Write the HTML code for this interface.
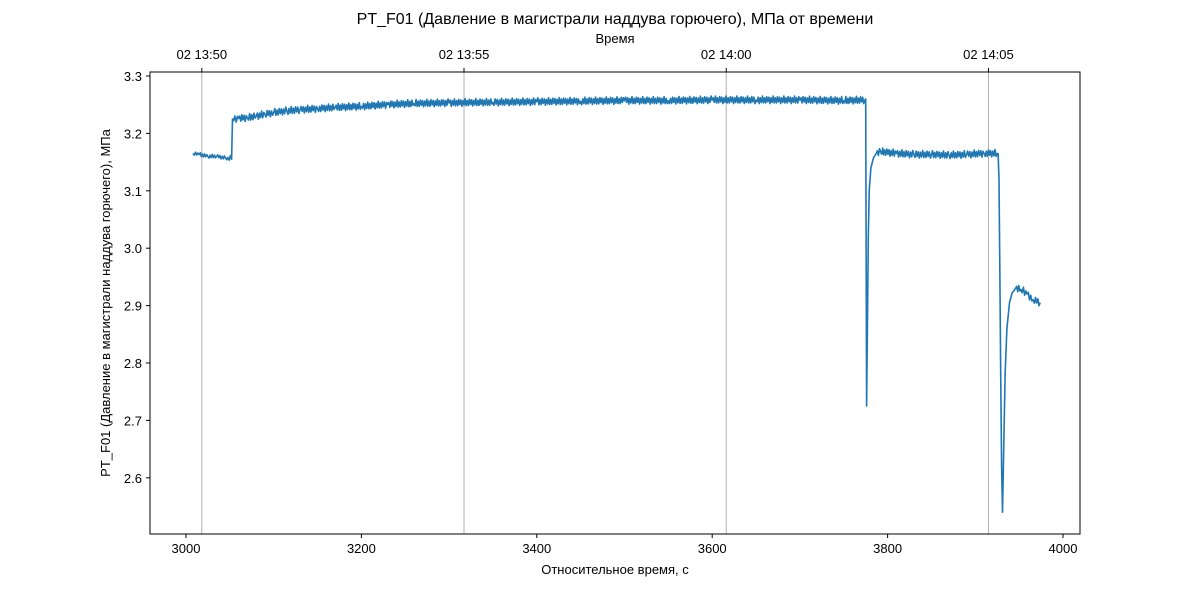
<!DOCTYPE html>
<html><head><meta charset="utf-8">
<style>
body{margin:0;background:#fff;}
svg text{font-family:"Liberation Sans","DejaVu Sans",sans-serif;fill:#000;}
</style></head>
<body>
<svg id="chart" width="1200" height="600" xmlns="http://www.w3.org/2000/svg"></svg>
<script>
const times = [3008,3015,3025,3035,3045,3052,3053,3060,3070,3080,3090,3100,3115,3130,3150,3170,3200,3230,3260,3300,3350,3400,3450,3500,3550,3600,3650,3700,3750,3774,3775,3776,3777,3778,3779,3781,3784,3787,3792,3810,3830,3850,3870,3890,3910,3925,3926,3927,3928,3929,3930,3931,3932,3934,3936,3939,3942,3946,3952,3959,3966,3974];
const values = [3.165,3.163,3.160,3.160,3.157,3.155,3.225,3.226,3.227,3.230,3.233,3.236,3.239,3.241,3.243,3.245,3.247,3.250,3.252,3.253,3.254,3.255,3.256,3.257,3.257,3.258,3.258,3.258,3.257,3.258,3.26,2.725,2.86,3.02,3.10,3.14,3.158,3.165,3.168,3.165,3.163,3.163,3.162,3.163,3.165,3.165,3.165,3.12,2.95,2.78,2.62,2.54,2.62,2.78,2.86,2.905,2.922,2.930,2.928,2.920,2.910,2.905];
const jitter = [0.004,-0.005,0.006,-0.003,0.005,-0.006,0.004,-0.004,0.007,-0.005];
const xTicks = [3000,3200,3400,3600,3800,4000];
const yTicks = [2.6,2.7,2.8,2.9,3.0,3.1,3.2,3.3];
const topTicks = [3018,3317,3616,3915];
const topLabels = ["02 13:50","02 13:55","02 14:00","02 14:05"];

const L=150,R=1080,T=72,B=534;
const sx=v=>186+(v-3000)*0.877;
const sy=v=>76+(3.3-v)*574;
const svg=document.getElementById('chart');
const NS='http://www.w3.org/2000/svg';
function mk(tag,attrs,parent){const e=document.createElementNS(NS,tag);for(const k in attrs)e.setAttribute(k,attrs[k]);(parent||svg).appendChild(e);return e;}
function txt(s,attrs,name){const e=mk('text',attrs);e.textContent=s;


return e;}

topTicks.forEach((t,i)=>{
 const g=mk('line',{x1:sx(t),x2:sx(t),y1:T,y2:B,stroke:'#b0b0b0','stroke-width':1});
 
 
 mk('line',{x1:sx(t),x2:sx(t),y1:T,y2:T-4,stroke:'#000'});
 txt(topLabels[i],{x:sx(t),y:T-13,'text-anchor':'middle','font-size':13},'top-tick-label');
});

let pts=[];
for(let i=0;i<times.length-1;i++){
 const t0=times[i],t1=times[i+1],v0=values[i],v1=values[i+1];
 pts.push([t0,v0]);
 const steady=Math.abs(v1-v0)<0.02 && t1-t0>4;
 if(steady){
  const n=Math.floor((t1-t0)/1.2);
  for(let k=1;k<n;k++){const t=t0+(t1-t0)*k/n;const v=v0+(v1-v0)*k/n+jitter[(i*7+k)%jitter.length]*(t<3050?0.5:1);pts.push([t,v]);}
 }
}
pts.push([times[times.length-1],values[values.length-1]]);
const line=mk('polyline',{points:pts.map(p=>sx(p[0]).toFixed(1)+','+sy(p[1]).toFixed(1)).join(' '),fill:'none',stroke:'#1f77b4','stroke-width':1.6,'stroke-linejoin':'round'});



const fr=mk('rect',{x:L,y:T,width:R-L,height:B-T,fill:'none',stroke:'#000','stroke-width':1});



xTicks.forEach(t=>{mk('line',{x1:sx(t),x2:sx(t),y1:B,y2:B+4,stroke:'#000'});
 txt(String(t),{x:sx(t),y:B+19,'text-anchor':'middle','font-size':13},'x-tick-label');});
yTicks.forEach(t=>{mk('line',{x1:L-4,x2:L,y1:sy(t),y2:sy(t),stroke:'#000'});
 txt(t.toFixed(1),{x:L-8,y:sy(t)+5,'text-anchor':'end','font-size':13},'y-tick-label');});

txt('PT_F01 (Давление в магистрали наддува горючего), МПа от времени',{x:615,y:24,'text-anchor':'middle','font-size':16},'chart-title');
txt('Время',{x:615,y:43,'text-anchor':'middle','font-size':13},'top-axis-title');
txt('Относительное время, с',{x:615,y:574,'text-anchor':'middle','font-size':13},'x-axis-title');
txt('PT_F01 (Давление в магистрали наддува горючего), МПа',{x:0,y:0,'text-anchor':'middle','font-size':13,transform:'translate(110,303) rotate(-90)'},'y-axis-title');
</script>
</body></html>
